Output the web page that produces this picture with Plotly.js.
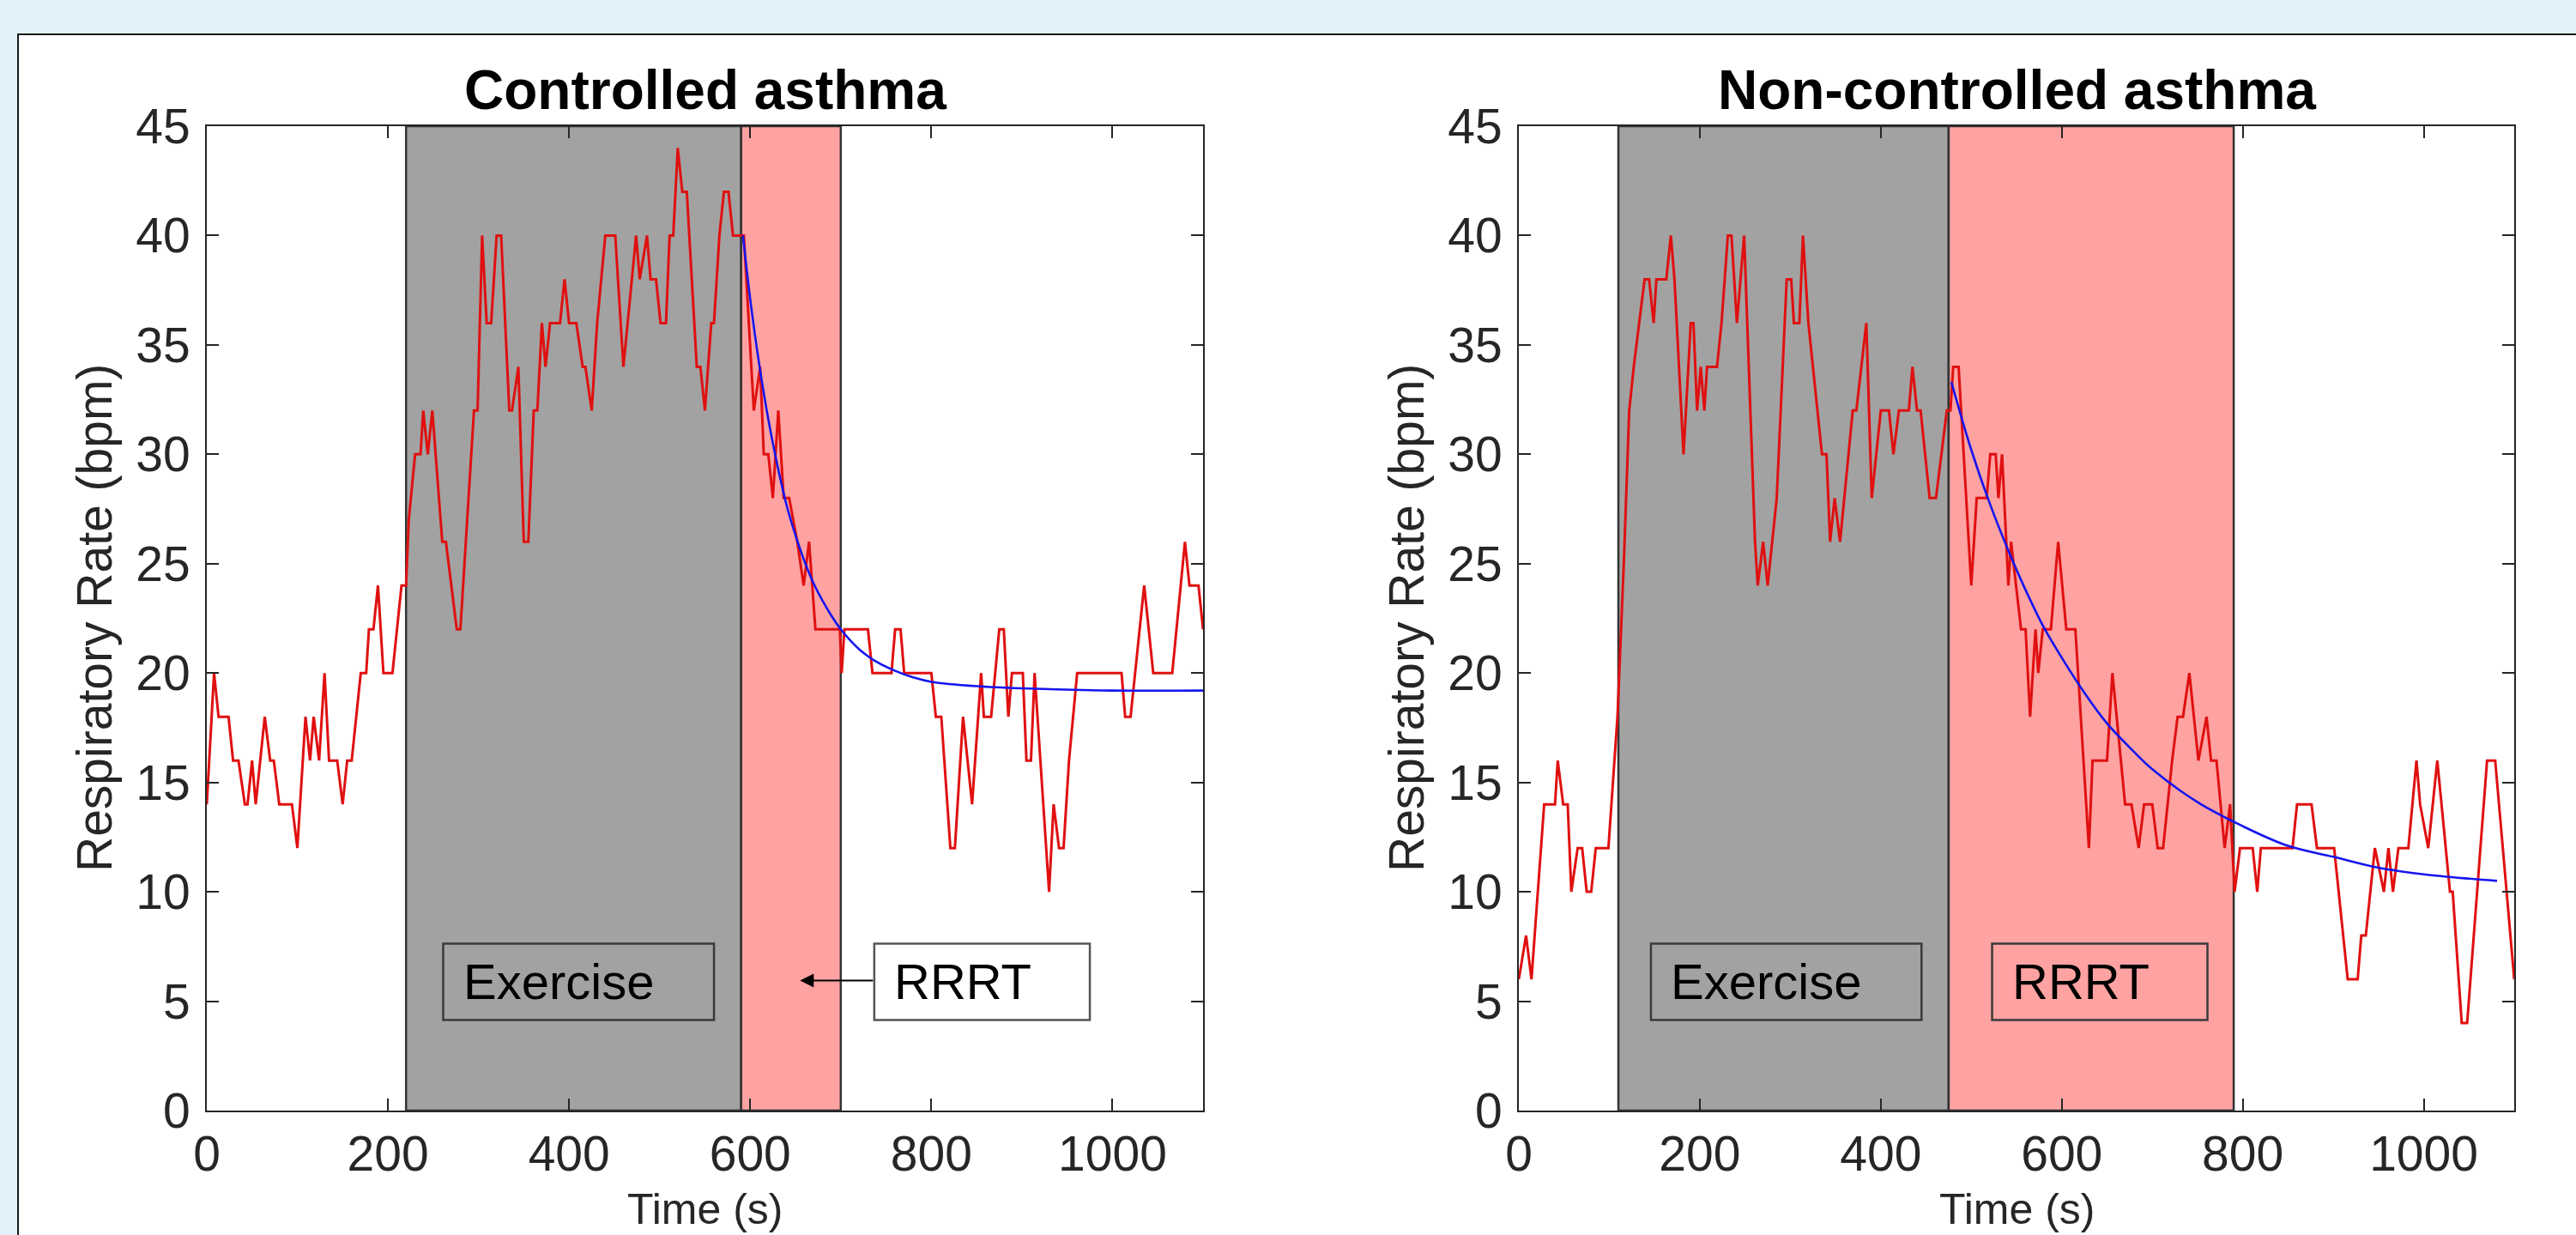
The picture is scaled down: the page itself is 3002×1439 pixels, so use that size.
<!DOCTYPE html>
<html><head><meta charset="utf-8">
<script src="https://cdn.plot.ly/plotly-3.0.1.min.js"></script>
<style>
html,body{margin:0;padding:0;width:3002px;height:1439px;overflow:hidden;background:#e3f1f8;}
#frame{position:absolute;left:20px;top:39px;width:2982px;height:1400px;border-left:2px solid #1a1a1a;border-top:2px solid #1a1a1a;background:#fff;overflow:hidden;}
#plot{position:absolute;left:0;top:0;width:2980px;height:1500px;}
</style></head><body>
<div id="frame"><div id="plot"></div></div>
<script>
// ---------------- data ----------------
const panelTitles = ['Controlled asthma', 'Non-controlled asthma'];
const xTitle = 'Time (s)';
const yTitle = 'Respiratory Rate (bpm)';
const xTickVals = [0, 200, 400, 600, 800, 1000];
const xTickText = ['0', '200', '400', '600', '800', '1000'];
const yTickVals = [0, 5, 10, 15, 20, 25, 30, 35, 40, 45];
const yTickText = ['0', '5', '10', '15', '20', '25', '30', '35', '40', '45'];

// phases (s)
const ctrlExercise = [220, 590];
const ctrlRRRT = [590, 700];
const ncExercise = [110, 475];
const ncRRRT = [475, 790];

// controlled asthma: respiratory rate
const ctrlTime = [0,8,13,24,29,35,42,45,50,54,64,70,74,80,94,100,109,114,118,124,130,135,144,150,155,160,170,176,179,184,189,195,205,215,220,
  223,230,236,239,244,249,260,264,276,280,295,299,304,309,314,320,325,334,337,344,350,355,361,365,370,374,379,390,395,400,408,415,418,425,431,440,451,460,469,474,478,486,490,496,501,507,511,515,520,525,530,541,545,550,557,560,566,571,576,581,593,
  604,611,615,620,625,631,637,643,652,659,665,672,699,701,704,730,735,756,760,766,770,800,805,811,821,826,835,845,855,858,866,875,880,885,889,901,905,910,914,930,935,941,946,952,961,1010,1014,1020,1035,1045,1066,1080,1085,1095,1100];
const ctrlRate = [14,20,18,18,16,16,14,14,16,14,18,16,16,14,14,12,18,16,18,16,20,16,16,14,16,16,20,20,22,22,24,20,20,24,24,
  27,30,30,32,30,32,26,26,22,22,32,32,40,36,36,40,40,32,32,34,26,26,32,32,36,34,36,36,38,36,36,34,34,32,36,40,40,34,38,40,38,40,38,38,36,36,40,40,44,42,42,34,34,32,36,36,40,42,42,40,40,
  32,34,30,30,28,32,28,28,26,24,26,22,22,20,22,22,20,20,22,22,20,20,18,18,12,12,18,14,20,18,18,22,22,18,20,20,16,16,20,10,14,12,12,16,20,20,18,18,24,20,20,26,24,24,22];
// controlled asthma: fitted recovery curve
const ctrlFitTime = [592,600,610,620,630,640,650,660,670,680,690,700,720,740,760,780,800,850,900,1000,1100];
const ctrlFitRate = [40.0,37.1,34.1,31.6,29.5,27.7,26.3,25.1,24.1,23.3,22.6,22.0,21.1,20.5,20.1,19.8,19.6,19.4,19.3,19.2,19.2];

// non-controlled asthma: respiratory rate
const ncTime = [0,8,14,28,40,43,49,54,58,65,70,75,80,85,99,104,109,116,122,127,133,139,144,149,152,163,168,172,182,190,193,197,201,205,208,219,224,231,235,241,249,261,264,270,275,285,296,301,304,310,314,320,335,340,344,349,355,369,373,384,390,400,409,414,420,431,435,440,444,454,461,473,477,
  480,486,500,506,517,521,527,530,534,541,544,555,560,565,571,574,579,588,596,605,615,630,634,650,656,670,677,685,691,700,706,712,722,728,734,741,751,760,765,771,780,786,791,797,811,816,820,855,860,876,882,901,916,927,931,936,946,956,961,966,972,983,992,996,1005,1015,1029,1032,1042,1048,1070,1079,1100];
const ncRate = [6,8,6,14,14,16,14,14,10,12,12,10,10,12,12,15,18,25,32,34,36,38,38,36,38,38,40,38,30,36,36,32,34,32,34,34,36,40,40,36,40,26,24,26,24,28,38,38,36,36,40,36,30,30,26,28,26,32,32,36,28,32,32,30,32,32,34,32,32,28,28,32,32,
  34,34,24,28,28,30,30,28,30,24,26,22,22,18,22,20,22,22,26,22,22,12,16,16,20,14,14,12,14,14,12,12,16,18,18,20,16,18,16,16,12,14,10,12,12,10,12,12,14,14,12,12,6,6,8,8,12,10,12,10,12,12,16,14,12,16,10,10,4,4,16,16,6];
// non-controlled asthma: fitted recovery curve
const ncFitTime = [478,500,520,540,560,580,600,625,650,675,700,750,800,850,900,950,1000,1050,1081];
const ncFitRate = [33.3,30.2,27.8,25.7,23.8,22.1,20.7,19.1,17.7,16.6,15.6,14.1,13.0,12.1,11.6,11.1,10.8,10.6,10.5];

// ---------------- styling ----------------
const FONT = 'Liberation Sans, Arial, Helvetica, sans-serif';
const GRAY = '#a2a2a2', PINK = '#fea2a2', EDGE = '#333333', AX = '#262626';
const W = 2980, H = 1500;
// pixel geometry inside the plot div
const yTop = 106, yBot = 1253;
const xDomL = [219 / W, 1380 / W], xDomR = [1748 / W, 2908 / W];
const yDom = [1 - yBot / H, 1 - yTop / H];

function axisX(dom, anchor) {
  return {domain: dom, anchor: anchor, range: [0, 1100], tickvals: xTickVals, ticktext: xTickText,
    showgrid: false, zeroline: false, showline: true, mirror: 'ticks', linecolor: AX, linewidth: 2,
    ticks: 'inside', ticklen: 14, tickwidth: 2, tickcolor: AX, automargin: false,
    tickfont: {family: FONT, size: 57, color: AX}, ticklabelstandoff: 0, fixedrange: true};
}
function axisY(anchor) {
  return {domain: yDom, anchor: anchor, range: [0, 45], tickvals: yTickVals, ticktext: yTickText,
    showgrid: false, zeroline: false, showline: true, mirror: 'ticks', linecolor: AX, linewidth: 2,
    ticks: 'inside', ticklen: 14, tickwidth: 2, tickcolor: AX, automargin: false,
    tickfont: {family: FONT, size: 57, color: AX}, ticklabelstandoff: 6, fixedrange: true};
}

const traces = [
  {x: ctrlTime, y: ctrlRate, xaxis: 'x', yaxis: 'y', mode: 'lines', line: {color: '#e01010', width: 3}, hoverinfo: 'skip'},
  {x: ctrlFitTime, y: ctrlFitRate, xaxis: 'x', yaxis: 'y', mode: 'lines', line: {color: '#1515f0', width: 2.6, shape: 'spline'}, hoverinfo: 'skip'},
  {x: ncTime, y: ncRate, xaxis: 'x2', yaxis: 'y2', mode: 'lines', line: {color: '#e01010', width: 3}, hoverinfo: 'skip'},
  {x: ncFitTime, y: ncFitRate, xaxis: 'x2', yaxis: 'y2', mode: 'lines', line: {color: '#1515f0', width: 2.6, shape: 'spline'}, hoverinfo: 'skip'}
];

function band(xa, ya, span, color) {
  return {type: 'rect', layer: 'below', xref: xa, yref: ya + ' domain', x0: span[0], x1: span[1], y0: 0, y1: 1,
    fillcolor: color, line: {color: EDGE, width: 2.5}};
}
function box(xa, ya, x0, x1, fill, edge) {
  return {type: 'rect', layer: 'above', xref: xa, yref: ya, x0: x0, x1: x1, y0: 4.14, y1: 7.63,
    fillcolor: fill, line: {color: edge, width: 2.5}};
}
const shapes = [
  band('x', 'y', ctrlExercise, GRAY), band('x', 'y', ctrlRRRT, PINK),
  band('x2', 'y2', ncExercise, GRAY), band('x2', 'y2', ncRRRT, PINK),
  box('x', 'y', 261, 560, GRAY, '#3a3a3a'), box('x', 'y', 737, 975, '#ffffff', '#555555'),
  box('x2', 'y2', 146, 445, GRAY, '#3a3a3a'), box('x2', 'y2', 523, 761, PINK, '#3a3a3a')
];

const txt = (s, c) => ({family: FONT, size: s, color: c || '#000'});
const annotations = [
  {xref: 'x domain', yref: 'paper', x: 0.5, y: 1 - 64 / H, text: '<b>' + panelTitles[0] + '</b>', showarrow: false, font: txt(64), xanchor: 'center', yanchor: 'middle'},
  {xref: 'x2 domain', yref: 'paper', x: 0.5, y: 1 - 64 / H, text: '<b>' + panelTitles[1] + '</b>', showarrow: false, font: txt(64), xanchor: 'center', yanchor: 'middle'},
  {xref: 'paper', yref: 'paper', x: 88 / W, y: 1 - 679 / H, text: yTitle, textangle: -90, showarrow: false, font: txt(57, AX), xanchor: 'center', yanchor: 'middle'},
  {xref: 'paper', yref: 'paper', x: 1617 / W, y: 1 - 679 / H, text: yTitle, textangle: -90, showarrow: false, font: txt(57, AX), xanchor: 'center', yanchor: 'middle'},
  {xref: 'x domain', yref: 'paper', x: 0.5, y: 1 - 1368 / H, text: xTitle, showarrow: false, font: txt(50, AX), xanchor: 'center', yanchor: 'middle', borderpad: 0},
  {xref: 'x2 domain', yref: 'paper', x: 0.5, y: 1 - 1368 / H, text: xTitle, showarrow: false, font: txt(50, AX), xanchor: 'center', yanchor: 'middle', borderpad: 0},
  {xref: 'x', yref: 'y', x: 281, y: 5.9, text: 'Exercise', showarrow: false, font: txt(58), xanchor: 'left', yanchor: 'middle'},
  {xref: 'x', yref: 'y', x: 757, y: 5.9, text: 'RRRT', showarrow: false, font: txt(58), xanchor: 'left', yanchor: 'middle'},
  {xref: 'x2', yref: 'y2', x: 166, y: 5.9, text: 'Exercise', showarrow: false, font: txt(58), xanchor: 'left', yanchor: 'middle'},
  {xref: 'x2', yref: 'y2', x: 543, y: 5.9, text: 'RRRT', showarrow: false, font: txt(58), xanchor: 'left', yanchor: 'middle'},
  {xref: 'x', yref: 'y', x: 655, y: 5.94, ax: 737, ay: 5.94, axref: 'x', ayref: 'y', text: '', showarrow: true,
    arrowhead: 2, arrowsize: 1.6, arrowwidth: 2, arrowcolor: '#000'}
];

const layout = {
  width: W, height: H, margin: {l: 0, r: 0, t: 0, b: 0, pad: 0},
  paper_bgcolor: '#ffffff', plot_bgcolor: '#ffffff', showlegend: false,
  xaxis: axisX(xDomL, 'y'), yaxis: axisY('x'),
  xaxis2: axisX(xDomR, 'y2'), yaxis2: axisY('x2'),
  shapes: shapes, annotations: annotations
};
Plotly.newPlot('plot', traces, layout, {displayModeBar: false, staticPlot: true});
</script></body></html>
